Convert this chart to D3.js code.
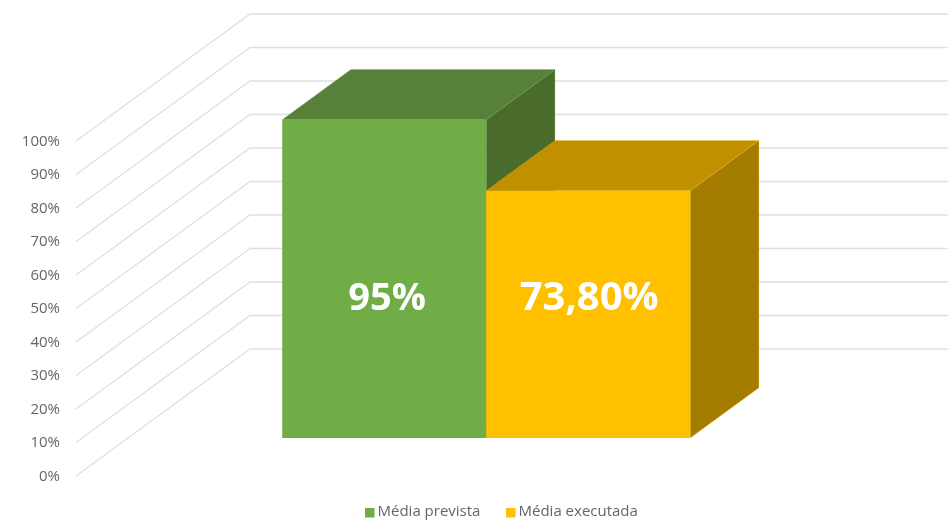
<!DOCTYPE html>
<html lang="pt">
<head>
    <meta charset="UTF-8">
    <title>Média prevista x executada</title>
    <script src="https://cdn.jsdelivr.net/npm/d3@7"></script>
    <style>
        html, body { margin: 0; background: #fff; }
        svg { display: block; filter: blur(0.4px); }
        text { font-family: "Open Sans", "Noto Sans", sans-serif; }
    </style>
</head>
<body>

<script>

    var categories = ["Média prevista", "Média executada"];
    var values = [95, 73.8];
    var valueLabels = ["95%", "73,80%"];
    var ticks = [0, 10, 20, 30, 40, 50, 60, 70, 80, 90, 100];
    var colors = ["#70AD47", "#FFC000"];
    var topColors = ["#578138", "#C09000"];
    var sideColors = ["#496C2D", "#A47C00"];

    var width = 948;
    var height = 520;

    // depth axis of the fake 3d box: 0 = front of floor, 1 = back wall
    var depthX = d3.scaleLinear().domain([0, 1]).range([0, 174]);
    var depthY = d3.scaleLinear().domain([0, 1]).range([0, -127]);
    var barDepth = [0.30, 0.695];

    var xScale = d3.scaleBand()
        .domain(categories)
        .range([230, 638]);

    var yScale = d3.scaleLinear()
        .domain([0, 100])
        .range([476, 141]);

    function project(x, v, z) {
        return [x + depthX(z), yScale(v) + depthY(z)];
    }

    var line = d3.line();

    function poly(points) {
        return line(points) + "Z";
    }

    var svg = d3.select("body").append("svg")
        .attr("width", width)
        .attr("height", height);

    // gridlines: along the side wall and then along the back wall
    svg.append("g").selectAll("path")
        .data(ticks)
        .enter().append("path")
        .attr("d", function (d) {
            return line([project(76, d, 0), project(76, d, 1), [width, yScale(d) + depthY(1)]]);
        })
        .attr("fill", "none")
        .attr("stroke", "#E0E0E0")
        .attr("stroke-width", 1.3);

    // tick labels
    svg.append("g").selectAll("text")
        .data(ticks)
        .enter().append("text")
        .attr("x", 60)
        .attr("y", function (d) { return yScale(d); })
        .attr("dy", "0.33em")
        .attr("text-anchor", "end")
        .attr("font-size", 15)
        .attr("fill", "#666")
        .text(function (d) { return d + "%"; });

    // bars, back faces first so the yellow top overlaps the green side
    var bars = svg.append("g").selectAll("g")
        .data(categories)
        .enter().append("g");

    bars.append("path")
        .attr("d", function (d, i) {
            var x1 = xScale(d) + xScale.bandwidth();
            return poly([project(x1, 0, barDepth[0]), project(x1, values[i], barDepth[0]),
                project(x1, values[i], barDepth[1]), project(x1, 0, barDepth[1])]);
        })
        .attr("fill", function (d, i) { return sideColors[i]; })
        .attr("stroke", function (d, i) { return colors[i]; })
        .attr("stroke-opacity", 0.35)
        .attr("stroke-width", 0.8);

    bars.append("path")
        .attr("d", function (d, i) {
            var x0 = xScale(d), x1 = x0 + xScale.bandwidth();
            return poly([project(x0, values[i], barDepth[0]), project(x1, values[i], barDepth[0]),
                project(x1, values[i], barDepth[1]), project(x0, values[i], barDepth[1])]);
        })
        .attr("fill", function (d, i) { return topColors[i]; })
        .attr("stroke", function (d, i) { return colors[i]; })
        .attr("stroke-opacity", 0.35)
        .attr("stroke-width", 0.8);

    bars.append("path")
        .attr("d", function (d, i) {
            var x0 = xScale(d), x1 = x0 + xScale.bandwidth();
            return poly([project(x0, 0, barDepth[0]), project(x1, 0, barDepth[0]),
                project(x1, values[i], barDepth[0]), project(x0, values[i], barDepth[0])]);
        })
        .attr("fill", function (d, i) { return colors[i]; });

    bars.append("text")
        .attr("x", function (d, i) {
            return project(xScale(d) + xScale.bandwidth() / 2, 0, barDepth[0])[0] + (i === 0 ? 3 : 1);
        })
        .attr("y", 296)
        .attr("dy", "0.36em")
        .attr("text-anchor", "middle")
        .attr("font-size", function (d, i) { return i === 0 ? 38 : 40; })
        .attr("font-weight", 700)
        .attr("fill", "#fff")
        .text(function (d, i) { return valueLabels[i]; });

    // legend
    var legendX = [365, 506];
    var legend = svg.append("g").selectAll("g")
        .data(categories)
        .enter().append("g")
        .attr("transform", function (d, i) { return "translate(" + legendX[i] + ",508)"; });

    legend.append("rect")
        .attr("width", 9.5)
        .attr("height", 9.5)
        .attr("fill", function (d, i) { return colors[i]; });

    legend.append("text")
        .attr("x", 12.5)
        .attr("y", 7.5)
        .attr("font-size", 15)
        .attr("fill", "#666")
        .text(function (d) { return d; });

</script>
</body>
</html>
